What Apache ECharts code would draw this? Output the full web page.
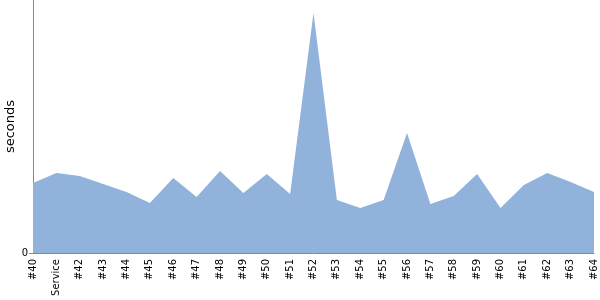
<!DOCTYPE html>
<html>
<head>
<meta charset="utf-8">
<script src="https://cdn.jsdelivr.net/npm/echarts@6/dist/echarts.min.js"></script>
<style>html,body{margin:0;padding:0;background:#fff}#c{width:600px;height:300px}</style>
</head>
<body>
<div id="c"></div>
<script>
const categories = ['#40','Service','#42','#43','#44','#45','#46','#47','#48','#49','#50','#51','#52','#53','#54','#55','#56','#57','#58','#59','#60','#61','#62','#63','#64'];
const seconds = [70,80,77,69,61,50,75,56,82,60,79,59,240,53,45,53,120,49,57,79,45,68,80,71,61];
const yTickLabels = ['0'];

const chart = echarts.init(document.getElementById('c'), null, {renderer:'canvas'});
chart.setOption({
  animation: false,
  grid: {left: 33, right: 6, top: 0, bottom: 47, containLabel: false, outerBoundsMode: 'none'},
  xAxis: {
    type: 'category',
    data: categories,
    boundaryGap: false,
    axisLine: {show: true, lineStyle: {color: '#888', width: 1}},
    axisTick: {show: false},
    axisLabel: {rotate: 90, interval: 0, color: '#000', fontSize: 10, fontFamily: 'DejaVu Sans', margin: 6}
  },
  yAxis: {
    type: 'value',
    min: 0, max: 253, interval: 253,
    name: 'seconds',
    nameLocation: 'middle',
    nameGap: 16,
    nameMoveOverlap: false,
    nameTextStyle: {color: '#000', fontSize: 13, fontFamily: 'DejaVu Sans'},
    axisLine: {show: true, lineStyle: {color: '#888', width: 1}},
    axisTick: {show: true, length: 4, lineStyle: {color: '#888'}},
    splitLine: {show: false},
    axisLabel: {
      color: '#000', fontSize: 10, fontFamily: 'DejaVu Sans', margin: 5,
      showMaxLabel: false,
      formatter: function (v) { return v === 0 ? yTickLabels[0] : ''; }
    }
  },
  series: [{
    type: 'line',
    data: seconds,
    symbol: 'none',
    lineStyle: {width: 0, color: '#90b2db'},
    areaStyle: {color: '#90b2db', opacity: 1}
  }]
});
</script>
</body>
</html>
